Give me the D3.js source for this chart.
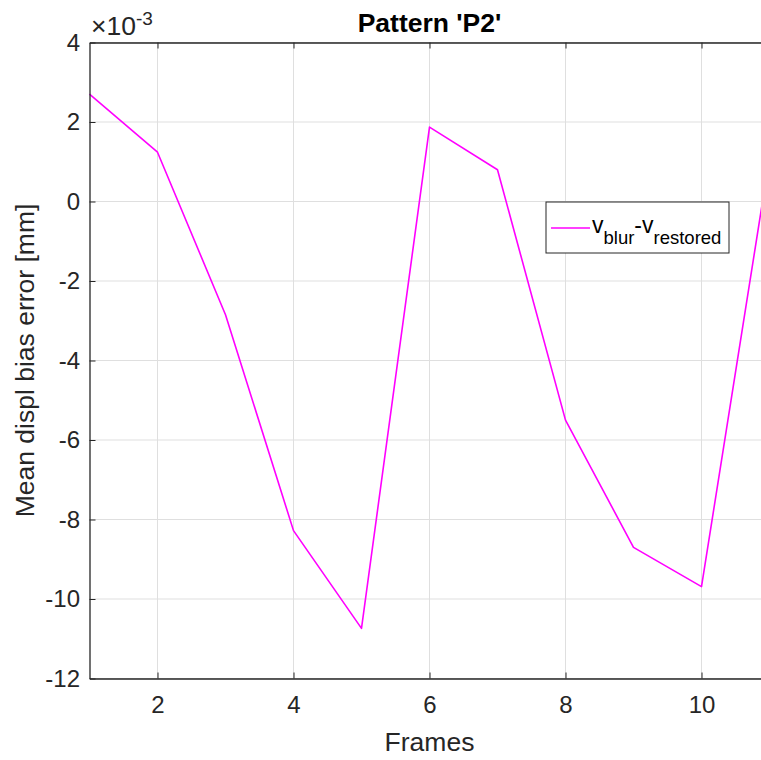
<!DOCTYPE html>
<html>
<head>
<meta charset="utf-8">
<script src="https://cdn.jsdelivr.net/npm/d3@7"></script>
<style>
  html, body { margin: 0; padding: 0; background: #fff; overflow: hidden; }
  svg { display: block; font-family: "Liberation Sans", Arial, Helvetica, sans-serif; }
</style>
</head>
<body>
<svg id="chart" width="761" height="760"></svg>
<script>
// Mean displacement bias error per frame (values in units of 1e-3 mm)
const frames = [1, 2, 3, 4, 5, 6, 7, 8, 9, 10, 11];
const biasError = [2.70, 1.24, -2.85, -8.28, -10.74, 1.87, 0.80, -5.50, -8.70, -9.69, 1.10];
const xTicks = [2, 4, 6, 8, 10];
const yTicks = [-12, -10, -8, -6, -4, -2, 0, 2, 4];

const svg = d3.select("#chart");
const axisColor = "#262626";

const x = d3.scaleLinear().domain([1, 11]).range([89.5, 769.5]);
const y = d3.scaleLinear().domain([-12, 4]).range([678.5, 42.5]);

const plot = svg.append("g");

// grid
plot.selectAll("line.gx").data(xTicks).join("line")
  .attr("x1", d => x(d)).attr("x2", d => x(d))
  .attr("y1", y(-12)).attr("y2", y(4))
  .attr("stroke", "#dfdfdf").attr("stroke-width", 1);
plot.selectAll("line.gy").data(yTicks).join("line")
  .attr("x1", x(1)).attr("x2", x(11))
  .attr("y1", d => y(d)).attr("y2", d => y(d))
  .attr("stroke", "#dfdfdf").attr("stroke-width", 1);

// data line
const line = d3.line().x((d, i) => x(frames[i])).y(d => y(d));
plot.append("path")
  .datum(biasError)
  .attr("d", line)
  .attr("fill", "none")
  .attr("stroke", "#ff00ff")
  .attr("stroke-width", 1.6)
  .attr("stroke-linejoin", "round");

// axes (ticks pointing inward)
const fontSize = 24;
const xAxis = d3.axisBottom(x).tickValues(xTicks).tickSizeInner(-6).tickSizeOuter(0).tickPadding(17);
const gx = svg.append("g").attr("transform", `translate(0,${y(-12)})`).call(xAxis);
const xTop = d3.axisTop(x).tickValues(xTicks).tickSizeInner(-6).tickSizeOuter(0).tickFormat("");
const gxt = svg.append("g").attr("transform", `translate(0,${y(4)})`).call(xTop);
const yAxis = d3.axisLeft(y).tickValues(yTicks).tickSizeInner(-6).tickSizeOuter(0).tickPadding(9.5)
  .tickFormat(d => d3.format("d")(d).replace("\u2212", "-"));
const gy = svg.append("g").attr("transform", `translate(${x(1)},0)`).call(yAxis);

[gx, gxt, gy].forEach(g => {
  g.select(".domain").attr("stroke", axisColor).attr("stroke-width", 1.3);
  g.selectAll(".tick line").attr("stroke", axisColor).attr("stroke-width", 1);
  g.selectAll(".tick text").attr("fill", axisColor).attr("font-size", fontSize)
    .attr("font-family", "Liberation Sans, Arial, sans-serif");
});

// exponent label
const ex = svg.append("text").attr("x", 91).attr("y", 35).attr("fill", axisColor)
  .attr("font-size", 26.5);
ex.append("tspan").text("\u00d710");
ex.append("tspan").attr("dy", -10).attr("font-size", 19).text("-3");

// title
svg.append("text").attr("x", 429.5).attr("y", 31.5).attr("text-anchor", "middle")
  .attr("font-size", 26.5).attr("font-weight", "bold").attr("fill", "#000")
  .text("Pattern 'P2'");

// axis labels
svg.append("text").attr("x", 429.5).attr("y", 751).attr("text-anchor", "middle")
  .attr("font-size", 26.5).attr("fill", axisColor).text("Frames");
svg.append("text").attr("transform", `translate(34,${(42.5 + 678.5) / 2}) rotate(-90)`)
  .attr("text-anchor", "middle").attr("font-size", 26.5).attr("fill", axisColor)
  .text("Mean displ bias error [mm]");

// legend
const lg = svg.append("g").attr("transform", "translate(546,202)");
lg.append("rect").attr("width", 183).attr("height", 51)
  .attr("fill", "#fff").attr("stroke", "#262626").attr("stroke-width", 1);
lg.append("line").attr("x1", 5).attr("x2", 44).attr("y1", 26).attr("y2", 26)
  .attr("stroke", "#ff00ff").attr("stroke-width", 1.6);
const lt = lg.append("text").attr("x", 46).attr("y", 31).attr("font-size", 23).attr("fill", "#000");
lt.append("tspan").text("v");
lt.append("tspan").attr("dy", 11).attr("font-size", 18.5).text("blur");
lt.append("tspan").attr("dy", -11).attr("font-size", 23).text("-v");
lt.append("tspan").attr("dy", 11).attr("font-size", 18.5).text("restored");
</script>
</body>
</html>
